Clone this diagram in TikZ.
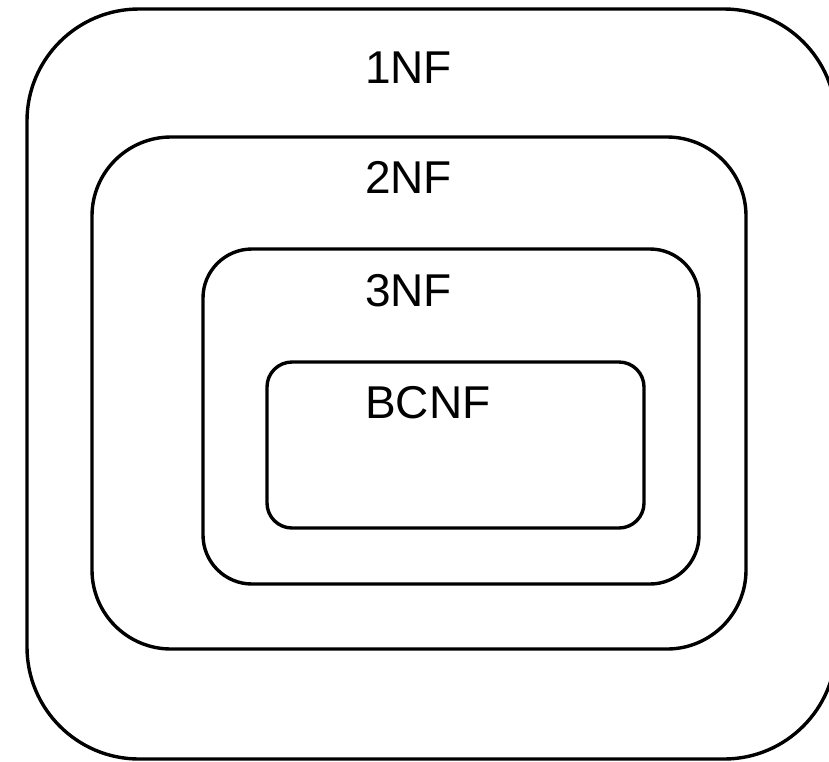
\documentclass[tikz,border=0pt]{standalone}
\usepackage{fontspec}
\setmainfont{Liberation Sans}
\begin{document}
\begin{tikzpicture}[x=1pt,y=-1pt,
  nfbox/.style={draw=black, line width=3.4pt, inner sep=0pt, fill=none},
  nflabel/.style={anchor=base west, inner sep=0pt, font=\fontsize{46}{55}\selectfont}]
  \useasboundingbox (0,0) rectangle (829,761);
  % nested normal-form regions
  \node[nfbox, rounded corners=112pt, minimum width=809pt, minimum height=750pt] (nf1) at (431.5,384) {};
  \node[nfbox, rounded corners=79pt, minimum width=654pt, minimum height=512pt] (nf2) at (419,393) {};
  \node[nfbox, rounded corners=49pt, minimum width=496pt, minimum height=335pt] (nf3) at (451,416.5) {};
  \node[nfbox, rounded corners=25pt, minimum width=377pt, minimum height=166pt] (bcnf) at (455.5,445) {};
  % labels
  \node[nflabel] (l1) at (365,83) {1NF};
  \node[nflabel] (l2) at (365,193) {2NF};
  \node[nflabel] (l3) at (365,306) {3NF};
  \node[nflabel] (l4) at (365,418) {BCNF};
\end{tikzpicture}
\end{document}
